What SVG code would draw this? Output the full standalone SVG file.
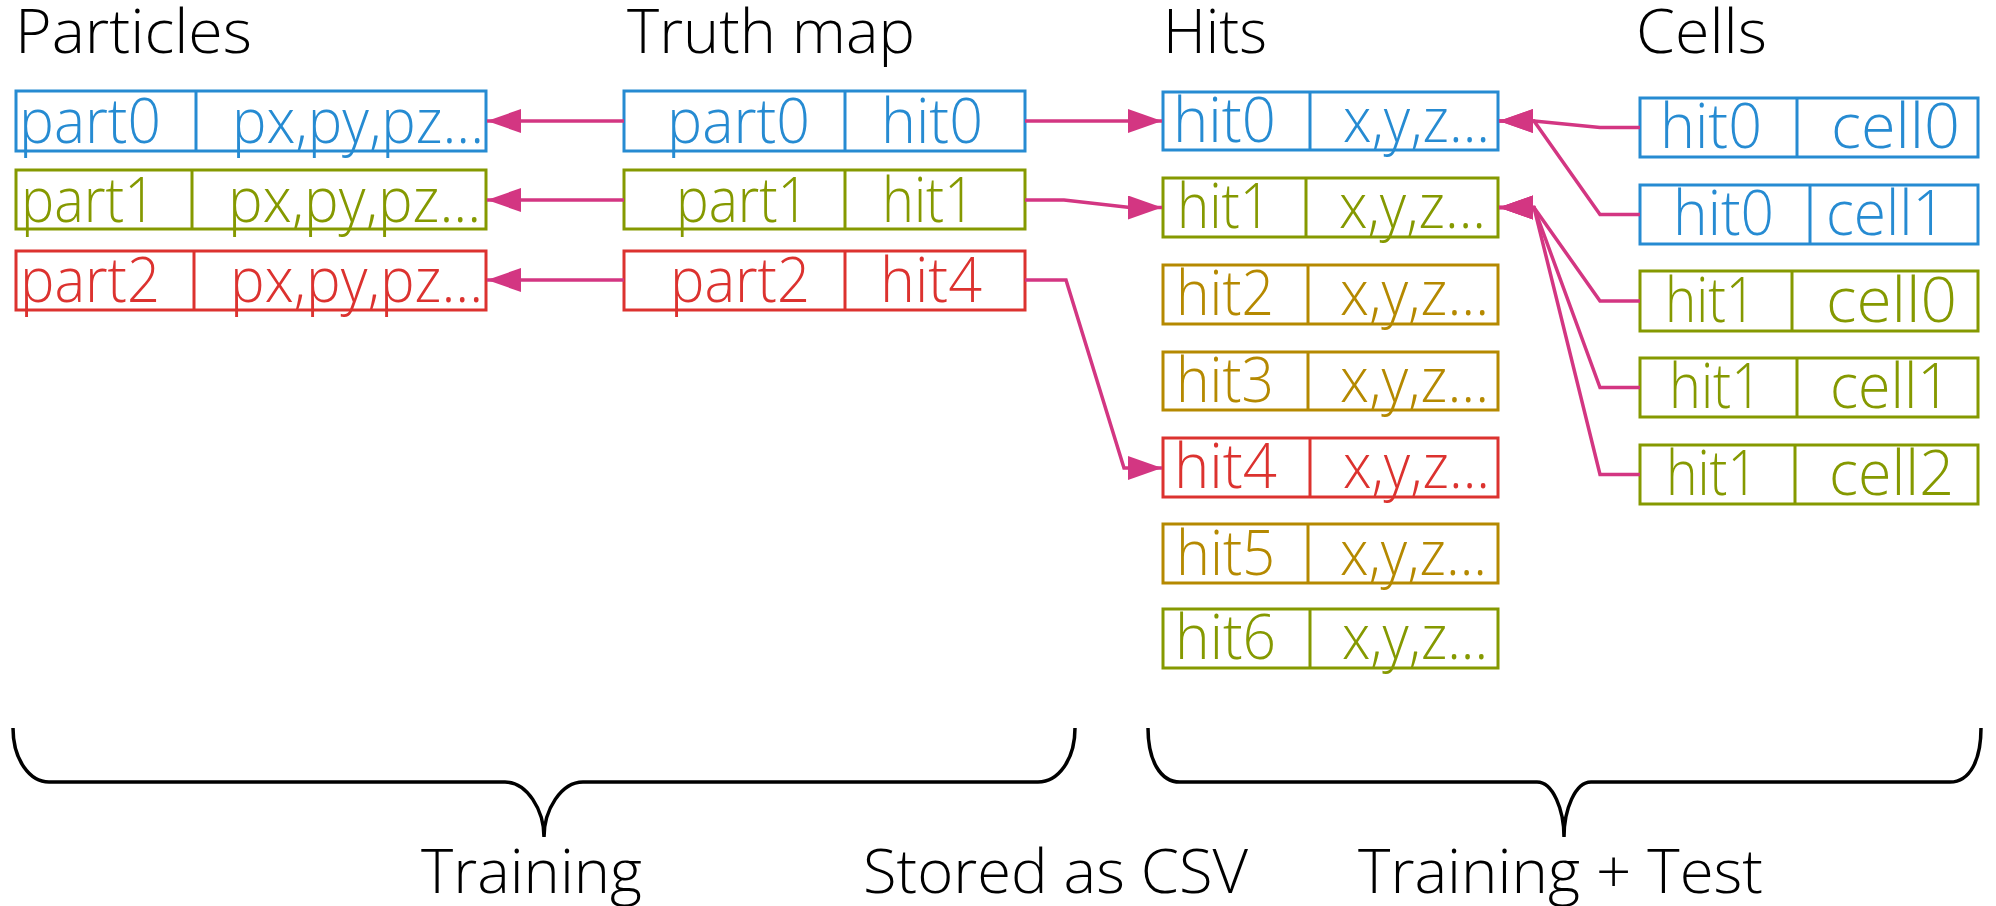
<svg xmlns="http://www.w3.org/2000/svg" width="1996" height="906" viewBox="0 0 1996 906">
<style>
text{font-family:"Open Sans","Noto Sans","DejaVu Sans",sans-serif;font-weight:300;font-size:62px}
.t{fill:#000;font-size:60px}
.box{fill:none;stroke-width:3}
.blue{stroke:#268bd2}.green{stroke:#859900}.red{stroke:#dc322f}.yel{stroke:#b58900}
.fb{fill:#268bd2}.fg{fill:#859900}.fr{fill:#dc322f}.fy{fill:#b58900}
.con{fill:none;stroke:#d33682;stroke-width:3.5;marker-end:url(#ah)}
.brace{fill:none;stroke:#000;stroke-width:3.5}
</style>
<defs>
<marker id="ah" markerUnits="userSpaceOnUse" markerWidth="36" markerHeight="26" refX="34" refY="12" orient="auto">
<path d="M0,0 L34,12 L0,24 Z" fill="#d33682"/>
</marker>
</defs>
<rect width="1996" height="906" fill="#fff"/>
<g id="titles">
<text class="t" x="15" y="53" textLength="237" lengthAdjust="spacingAndGlyphs">Particles</text>
<text class="t" x="627" y="53" textLength="288" lengthAdjust="spacingAndGlyphs">Truth map</text>
<text class="t" x="1163" y="53" textLength="104" lengthAdjust="spacingAndGlyphs">Hits</text>
<text class="t" x="1636" y="53" textLength="131" lengthAdjust="spacingAndGlyphs">Cells</text>
</g>
<g id="particles">
<g id="p0"><rect class="box blue" x="16" y="91" width="470" height="60"/><line class="box blue" x1="196" y1="91" x2="196" y2="151"/>
<text class="fb" x="19" y="143" textLength="142" lengthAdjust="spacingAndGlyphs">part0</text><text class="fb" x="232" y="143" textLength="252" lengthAdjust="spacingAndGlyphs">px,py,pz...</text></g>
<g id="p1"><rect class="box green" x="16" y="170" width="470" height="59"/><line class="box green" x1="192" y1="170" x2="192" y2="229"/>
<text class="fg" x="21" y="222" textLength="135" lengthAdjust="spacingAndGlyphs">part1</text><text class="fg" x="228" y="222" textLength="253" lengthAdjust="spacingAndGlyphs">px,py,pz...</text></g>
<g id="p2"><rect class="box red" x="16" y="251" width="470" height="59"/><line class="box red" x1="194" y1="251" x2="194" y2="310"/>
<text class="fr" x="20" y="302" textLength="140" lengthAdjust="spacingAndGlyphs">part2</text><text class="fr" x="230" y="302" textLength="253" lengthAdjust="spacingAndGlyphs">px,py,pz...</text></g>
</g>
<g id="truthmap">
<g id="t0"><rect class="box blue" x="624" y="91" width="401" height="60"/><line class="box blue" x1="845" y1="91" x2="845" y2="151"/>
<text class="fb" x="667" y="143" textLength="143" lengthAdjust="spacingAndGlyphs">part0</text><text class="fb" x="881" y="143" textLength="102" lengthAdjust="spacingAndGlyphs">hit0</text></g>
<g id="t1"><rect class="box green" x="624" y="170" width="401" height="59"/><line class="box green" x1="845" y1="170" x2="845" y2="229"/>
<text class="fg" x="676" y="222" textLength="133" lengthAdjust="spacingAndGlyphs">part1</text><text class="fg" x="882" y="222" textLength="93" lengthAdjust="spacingAndGlyphs">hit1</text></g>
<g id="t2"><rect class="box red" x="624" y="251" width="401" height="59"/><line class="box red" x1="845" y1="251" x2="845" y2="310"/>
<text class="fr" x="670" y="302" textLength="140" lengthAdjust="spacingAndGlyphs">part2</text><text class="fr" x="880" y="302" textLength="102" lengthAdjust="spacingAndGlyphs">hit4</text></g>
</g>
<g id="hits">
<g id="h0"><rect class="box blue" x="1163" y="92" width="335" height="58"/><line class="box blue" x1="1310" y1="92" x2="1310" y2="150"/>
<text class="fb" x="1173" y="142" textLength="103" lengthAdjust="spacingAndGlyphs">hit0</text><text class="fb" x="1343" y="142" textLength="147" lengthAdjust="spacingAndGlyphs">x,y,z...</text></g>
<g id="h1"><rect class="box green" x="1163" y="178" width="335" height="59"/><line class="box green" x1="1306" y1="178" x2="1306" y2="237"/>
<text class="fg" x="1177" y="228" textLength="94" lengthAdjust="spacingAndGlyphs">hit1</text><text class="fg" x="1339" y="228" textLength="147" lengthAdjust="spacingAndGlyphs">x,y,z...</text></g>
<g id="h2"><rect class="box yel" x="1163" y="265" width="335" height="59"/><line class="box yel" x1="1308" y1="265" x2="1308" y2="324"/>
<text class="fy" x="1176" y="315" textLength="98" lengthAdjust="spacingAndGlyphs">hit2</text><text class="fy" x="1340" y="315" textLength="149" lengthAdjust="spacingAndGlyphs">x,y,z...</text></g>
<g id="h3"><rect class="box yel" x="1163" y="352" width="335" height="58"/><line class="box yel" x1="1308" y1="352" x2="1308" y2="410"/>
<text class="fy" x="1176" y="402" textLength="98" lengthAdjust="spacingAndGlyphs">hit3</text><text class="fy" x="1340" y="402" textLength="149" lengthAdjust="spacingAndGlyphs">x,y,z...</text></g>
<g id="h4"><rect class="box red" x="1163" y="438" width="335" height="59"/><line class="box red" x1="1310" y1="438" x2="1310" y2="497"/>
<text class="fr" x="1174" y="488" textLength="103" lengthAdjust="spacingAndGlyphs">hit4</text><text class="fr" x="1343" y="488" textLength="147" lengthAdjust="spacingAndGlyphs">x,y,z...</text></g>
<g id="h5"><rect class="box yel" x="1163" y="524" width="335" height="59"/><line class="box yel" x1="1308" y1="524" x2="1308" y2="583"/>
<text class="fy" x="1176" y="575" textLength="99" lengthAdjust="spacingAndGlyphs">hit5</text><text class="fy" x="1340" y="575" textLength="147" lengthAdjust="spacingAndGlyphs">x,y,z...</text></g>
<g id="h6"><rect class="box green" x="1163" y="609" width="335" height="59"/><line class="box green" x1="1310" y1="609" x2="1310" y2="668"/>
<text class="fg" x="1175" y="659" textLength="101" lengthAdjust="spacingAndGlyphs">hit6</text><text class="fg" x="1342" y="659" textLength="146" lengthAdjust="spacingAndGlyphs">x,y,z...</text></g>
</g>
<g id="cells">
<g id="c0"><rect class="box blue" x="1640" y="98" width="338" height="59"/><line class="box blue" x1="1797" y1="98" x2="1797" y2="157"/>
<text class="fb" x="1660" y="148" textLength="102" lengthAdjust="spacingAndGlyphs">hit0</text><text class="fb" x="1831" y="148" textLength="129" lengthAdjust="spacingAndGlyphs">cell0</text></g>
<g id="c1"><rect class="box blue" x="1640" y="185" width="338" height="59"/><line class="box blue" x1="1810" y1="185" x2="1810" y2="244"/>
<text class="fb" x="1673" y="235" textLength="101" lengthAdjust="spacingAndGlyphs">hit0</text><text class="fb" x="1826" y="235" textLength="120" lengthAdjust="spacingAndGlyphs">cell1</text></g>
<g id="c2"><rect class="box green" x="1640" y="271" width="338" height="60"/><line class="box green" x1="1792" y1="271" x2="1792" y2="331"/>
<text class="fg" x="1665" y="322" textLength="91" lengthAdjust="spacingAndGlyphs">hit1</text><text class="fg" x="1826" y="322" textLength="131" lengthAdjust="spacingAndGlyphs">cell0</text></g>
<g id="c3"><rect class="box green" x="1640" y="358" width="338" height="59"/><line class="box green" x1="1797" y1="358" x2="1797" y2="417"/>
<text class="fg" x="1669" y="408" textLength="93" lengthAdjust="spacingAndGlyphs">hit1</text><text class="fg" x="1830" y="408" textLength="121" lengthAdjust="spacingAndGlyphs">cell1</text></g>
<g id="c4"><rect class="box green" x="1640" y="445" width="338" height="59"/><line class="box green" x1="1795" y1="445" x2="1795" y2="504"/>
<text class="fg" x="1666" y="495" textLength="92" lengthAdjust="spacingAndGlyphs">hit1</text><text class="fg" x="1829" y="495" textLength="125" lengthAdjust="spacingAndGlyphs">cell2</text></g>
</g>
<g id="connectors">
<path class="con" d="M624,121 H487"/>
<path class="con" d="M624,200 H487"/>
<path class="con" d="M624,280 H487"/>
<path class="con" d="M1025,121 H1162"/>
<path class="con" d="M1025,200 H1064 L1130,207.5 H1162"/>
<path class="con" d="M1025,280 H1066 L1124,468 H1162"/>
<path class="con" d="M1640,127.5 H1600 L1534,121 H1499"/>
<path class="con" d="M1640,214.5 H1600 L1534,121 H1499"/>
<path class="con" d="M1640,301 H1600 L1534,207.5 H1499"/>
<path class="con" d="M1640,387.5 H1600 L1534,207.5 H1499"/>
<path class="con" d="M1640,474.5 H1600 L1534,207.5 H1499"/>
</g>
<g id="braces">
<path class="brace" d="M13,728 C13,760 30,782 49,782 H505 C527,782 544,810 544,837 C544,810 561,782 583,782 H1038 C1058,782 1075,760 1075,728"/>
<path class="brace" d="M1148,728 C1148,760 1160,782 1180,782 H1537 C1553,782 1564,810 1564,837 C1564,810 1575,782 1591,782 H1950 C1970,782 1981,760 1981,728"/>
</g>
<g id="labels">
<text class="t" x="421" y="893" textLength="221" lengthAdjust="spacingAndGlyphs">Training</text>
<text class="t" x="863" y="893" textLength="385" lengthAdjust="spacingAndGlyphs">Stored as CSV</text>
<text class="t" x="1358" y="893" textLength="405" lengthAdjust="spacingAndGlyphs">Training + Test</text>
</g>
</svg>
